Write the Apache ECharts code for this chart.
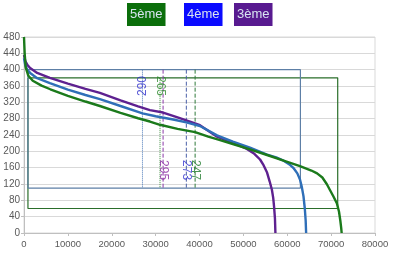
<!DOCTYPE html>
<html><head><meta charset="utf-8">
<script src="https://cdn.jsdelivr.net/npm/echarts@6/dist/echarts.min.js"></script>
<style>html,body{margin:0;padding:0;background:#fff}#c{width:400px;height:254px}</style>
</head><body><div id="c"></div>
<script>
// ---- data ----
var legendNames = ['5ème', '4ème', '3ème'];
var xTicks = [0, 10000, 20000, 30000, 40000, 50000, 60000, 70000, 80000];
var yTicks = [0, 40, 80, 120, 160, 200, 240, 280, 320, 360, 400, 440, 480];

var curve5 = [[0,480],[150,440],[400,405],[1000,385],[2000,373],[4000,361],[6000,352],[10000,336],[14000,322],[17300,311],[22000,294],[26000,281],[28700,273],[31000,265],[35000,255],[39000,247],[42000,236],[44500,228],[47600,218],[51500,205],[55400,191],[59000,178],[62900,164],[65500,153],[66800,146],[68000,136],[69000,120],[69700,106],[70500,90],[71300,73],[71800,52],[72100,30],[72300,12],[72400,0]];
var curve4 = [[0,428],[300,410],[800,399],[1400,392],[3000,379],[5900,367],[10000,351],[14000,338],[17300,328],[22000,311],[27000,293],[30000,286],[34000,278],[37000,271],[40100,262],[44000,239],[47600,224],[51500,209],[55400,192],[57500,185],[59000,178],[60500,168],[61500,158],[62300,146],[62900,131],[63300,114],[63700,90],[64000,60],[64200,30],[64300,0]];
var curve3 = [[0,436],[300,421],[800,411],[1400,404],[3000,392],[5900,380],[10000,366],[14000,353],[17300,343],[22000,325],[26000,310],[28700,301],[31700,295],[35000,283],[38000,272],[40100,264],[44000,236],[47600,221],[50800,206],[52500,194],[53800,180],[54600,166],[55400,148],[56000,126],[56500,106],[56800,86],[57000,64],[57200,35],[57300,0]];

var rect5 = [[900,380],[71500,380],[71500,60],[900,60],[900,380]];
var rect4 = [[900,400],[63000,400],[63000,110],[900,110],[900,400]];

var refX = [27000, 31000, 31700, 37000, 39000];
var refTop = [400, 380, 400, 400, 400];
var refBottom = [110, 110, 110, 110, 110];
var refLabels = ['290', '265', '295', '273', '247'];
var refLabelY = [360, 360, 154, 154, 154];

// ---- styles ----
var cGreen = '#1b7a1b', cBlue = '#2f6fb8', cPurple = '#5e2190';
var refColors = ['#4a78b8', '#3c8a3c', '#8a3aa8', '#4a5fa8', '#2f7a3a'];
var refTypes = ['dotted', 'dotted', 'dashed', 'dashed', 'dashed'];
var refLabelColors = ['#2e2ecc', '#2c8a2c', '#8a2aa0', '#3434d0', '#1f7a2a'];
var refRotate = [90, -90, -90, -90, -90];
var legendBg = ['#0b6e0b', '#0a0aff', '#581a90'];
var legendLeft = [127, 184, 234];

var series = [];
function lineSeries(data, color, width, type, z) {
  return {type: 'line', data: data, showSymbol: false, symbol: 'none', z: z,
    lineStyle: {color: color, width: width, type: type || 'solid'}, animation: false, silent: true};
}
series.push(lineSeries(rect5, '#2a6e2a', 1.2, 'solid', 2));
series.push(lineSeries(rect4, '#5d7fa6', 1.2, 'solid', 2));
for (var i = 0; i < refX.length; i++) {
  series.push(lineSeries([[refX[i], refTop[i]], [refX[i], refBottom[i]]], refColors[i], 1, refTypes[i], 2));
}
series.push(lineSeries(curve5, cGreen, 2.4, 'solid', 5));
series.push(lineSeries(curve4, cBlue, 2.4, 'solid', 4));
series.push(lineSeries(curve3, cPurple, 2.4, 'solid', 3));
series.push({
  type: 'scatter', symbolSize: 0, z: 6, silent: true, animation: false,
  data: refX.map(function (x, i) {
    return {value: [x, refLabelY[i]], label: {show: true, formatter: refLabels[i], rotate: refRotate[i],
      color: refLabelColors[i], position: 'inside', align: 'center', verticalAlign: 'middle',
      fontSize: 12, fontFamily: 'Liberation Sans'}};
  })
});

var titles = legendNames.map(function (n, i) {
  return {text: n, left: legendLeft[i], top: 3, backgroundColor: legendBg[i], padding: [5, 3, 5, 3],
    textStyle: {color: '#d8e4f0', fontSize: 13, fontWeight: 'normal', fontFamily: 'Liberation Sans'}};
});

var chart = echarts.init(document.getElementById('c'), null, {renderer: 'canvas'});
chart.setOption({
  animation: false,
  title: titles,
  grid: {left: 24, right: 25, top: 37, bottom: 21, show: true, borderColor: '#d9d9d9', borderWidth: 1},
  xAxis: {type: 'value', min: xTicks[0], max: xTicks[xTicks.length - 1], interval: xTicks[1] - xTicks[0],
    axisLine: {show: true, lineStyle: {color: '#bfbfbf'}}, axisTick: {show: true, length: 3, lineStyle: {color: '#bfbfbf'}},
    splitLine: {show: false},
    axisLabel: {color: '#595959', fontSize: 9.5, fontFamily: 'Liberation Sans', margin: 6,
      formatter: function (v) { return String(v); }}},
  yAxis: {type: 'value', min: yTicks[0], max: yTicks[yTicks.length - 1], interval: yTicks[1] - yTicks[0],
    axisLine: {show: true, lineStyle: {color: '#bfbfbf'}}, axisTick: {show: true, length: 3, lineStyle: {color: '#bfbfbf'}},
    splitLine: {show: true, lineStyle: {color: '#d9d9d9'}},
    axisLabel: {color: '#595959', fontSize: 10, fontFamily: 'Liberation Sans', margin: 4}},
  series: series
});
</script></body></html>
